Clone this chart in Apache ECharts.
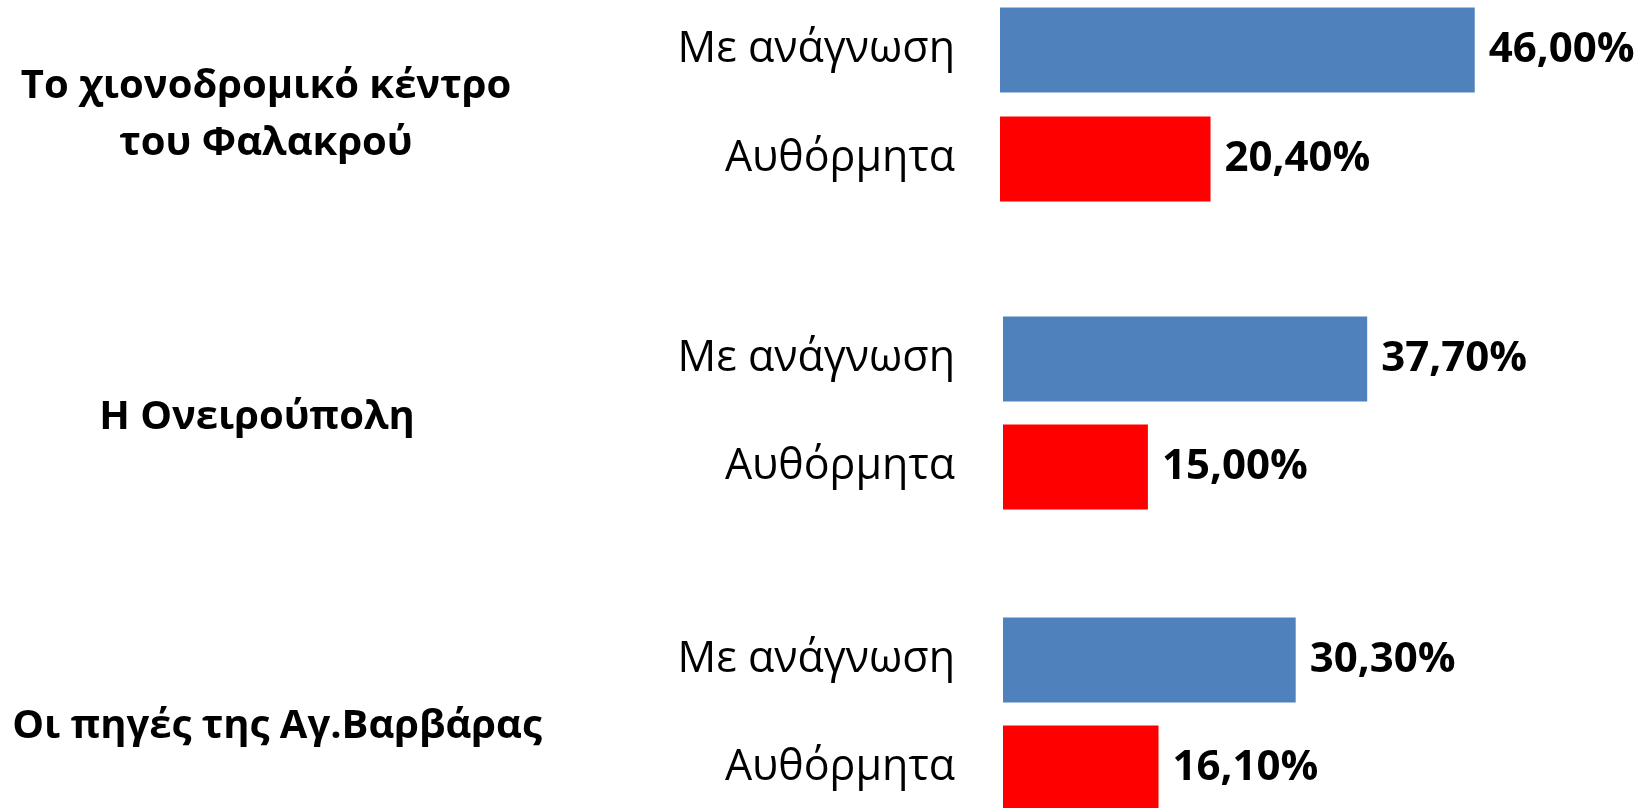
<!DOCTYPE html>
<html>
<head>
<meta charset="utf-8">
<script src="https://cdn.jsdelivr.net/npm/echarts@6/dist/echarts.min.js"></script>
<style>
html,body{margin:0;padding:0;background:#fff;}
#chart{width:1640px;height:808px;}
</style>
</head>
<body>
<div id="chart"></div>
<script>
const groups = ['Το χιονοδρομικό κέντρο\nτου Φαλακρού', 'Η Ονειρούπολη', 'Οι πηγές της Αγ.Βαρβάρας'];
const categories = ['Με ανάγνωση', 'Αυθόρμητα'];
const withPrompt = [46.0, 37.7, 30.3];
const spontaneous = [20.4, 15.0, 16.1];
const colors = ['#4F81BD', '#FF0000'];

const FONT = '"Open Sans", sans-serif';

const layout = [
  {left: 1000, top: 50, width: 516, height: 109, max: 50, margin: 45, titleX: 261, titleY: 110},
  {left: 1003, top: 359, width: 483, height: 108, max: 50, margin: 48, titleX: 252, titleY: 413},
  {left: 1003, top: 660, width: 483, height: 108, max: 50, margin: 48, titleX: 272, titleY: 722}
];

const chart = echarts.init(document.getElementById('chart'));
const option = {
  backgroundColor: '#fff',
  animation: false,
  title: groups.map((g, i) => ({
    text: g,
    left: layout[i].titleX,
    top: layout[i].titleY,
    textAlign: 'center',
    textVerticalAlign: 'middle',
    textStyle: {fontFamily: FONT, fontWeight: 'bold', fontSize: 40, color: '#000', lineHeight: 57}
  })),
  grid: layout.map(l => ({left: l.left, top: l.top, width: l.width, height: l.height, containLabel: false})),
  xAxis: layout.map((l, i) => ({
    type: 'value', gridIndex: i, min: 0, max: l.max, show: false
  })),
  yAxis: layout.map((l, i) => ({
    type: 'category', gridIndex: i, data: categories, inverse: true, boundaryGap: false,
    axisLine: {show: false}, axisTick: {show: false}, splitLine: {show: false},
    axisLabel: {margin: l.margin, fontFamily: FONT, fontSize: 43, color: '#000'}
  })),
  series: groups.map((g, i) => ({
    type: 'bar', xAxisIndex: i, yAxisIndex: i,
    barWidth: 85,
    data: [withPrompt[i], spontaneous[i]],
    itemStyle: {color: p => colors[p.dataIndex]},
    label: {
      show: true, position: 'right', distance: 14,
      fontFamily: FONT, fontWeight: 'bold', fontSize: 42, color: '#000',
      formatter: p => p.value.toFixed(2).replace('.', ',') + '%'
    }
  }))
};
chart.setOption(option);
</script>
</body>
</html>
